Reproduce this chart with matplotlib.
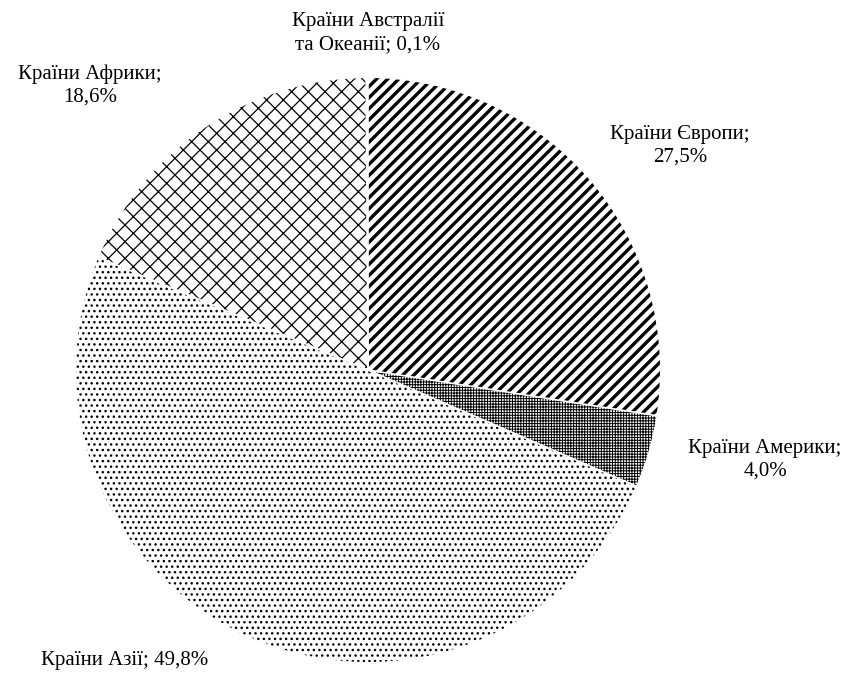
import numpy as np
import matplotlib
matplotlib.use('Agg')
import matplotlib.pyplot as plt

### Data ###
regions = ['Країни Європи', 'Країни Америки', 'Країни Азії', 'Країни Африки', 'Країни Австралії та Океанії']
shares = [27.5, 4.0, 49.8, 18.6, 0.1]
label_texts = ['Країни Європи;\n27,5%', 'Країни Америки;\n4,0%', 'Країни Азії; 49,8%',
               'Країни Африки;\n18,6%', 'Країни Австралії\nта Океанії; 0,1%']

hatches = ['///', '++++++', '...', 'xx', '']
hatch_lw = [2.4, 0.7, 1.0, 0.9, 1.0]

plt.rcParams['font.family'] = ['Liberation Serif', 'DejaVu Serif']
plt.rcParams['hatch.color'] = 'black'

fig = plt.figure(figsize=(8.63, 6.75), dpi=100)
ax = fig.add_axes([0, 0, 1, 1])

wedges, _ = ax.pie(shares, startangle=90, counterclock=False, radius=1,
                   colors=['white'] * len(shares),
                   wedgeprops=dict(edgecolor='black', linewidth=0))
for w, h, lw in zip(wedges, hatches, hatch_lw):
    w.set_hatch(h)
    if hasattr(w, 'set_hatch_linewidth'):
        w.set_hatch_linewidth(lw)

# pixel layout: centre at (368, 370) px from top-left, radius 292 px
r_px = 292.0
cx, cy = 368.0, 370.0
ax.set_xlim(-cx / r_px, (863 - cx) / r_px)
ax.set_ylim(-(675 - cy) / r_px, cy / r_px)
ax.set_aspect('auto')
ax.axis('off')

# thin white gaps between the slices
for w in wedges:
    ax.plot([0, np.cos(np.deg2rad(w.theta1))], [0, np.sin(np.deg2rad(w.theta1))],
            color='white', lw=1.2)

# label positions in pixels (x centre, y centre of text block)
label_pos = [(680, 146), (765, 460), (125, 660), (90, 86), (368, 33)]
for txt, (px, py) in zip(label_texts, label_pos):
    ax.text((px - cx) / r_px, (cy - py) / r_px, txt, ha='center', va='center',
            fontsize=15, linespacing=1.25)

fig.savefig('out.png', dpi=100)
